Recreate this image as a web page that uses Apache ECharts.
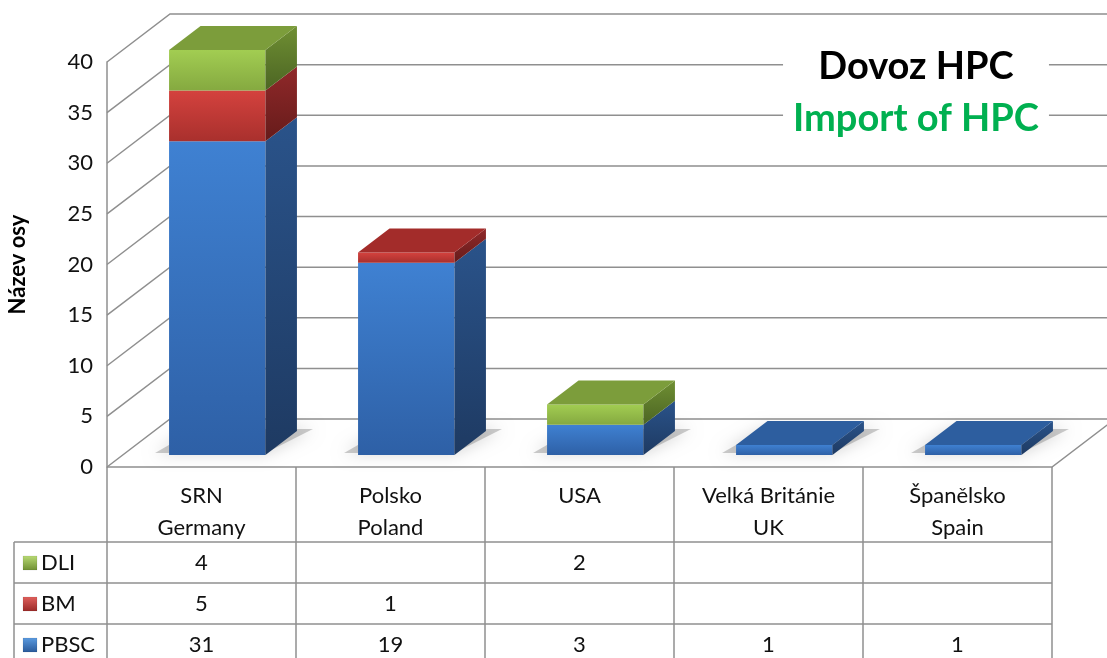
<!DOCTYPE html>
<html>
<head>
<meta charset="utf-8">
<script src="https://cdn.jsdelivr.net/npm/echarts@6/dist/echarts.min.js"></script>
<style>
  html, body { margin: 0; padding: 0; background: #fff; }
  #chart { width: 1107px; height: 658px; }
</style>
</head>
<body>
<div id="chart"></div>
<script>
// data
const categories = ['SRN\nGermany', 'Polsko\nPoland', 'USA', 'Velká Británie\nUK', 'Španělsko\nSpain'];
const seriesNames = ['PBSC', 'BM', 'DLI'];
const pbsc = [31, 19, 3, 1, 1];
const bm = [5, 1, null, null, null];
const dli = [4, null, 2, null, null];
const yTicks = [0, 5, 10, 15, 20, 25, 30, 35, 40];

// layout
const GL = 107, GR = 1052, GT = 62, GB = 467;
const DX = 63, DY = -48;
const FONT = 'Lato, "Open Sans", sans-serif';
const LINE = '#8f8f8f';

const palette = {
  PBSC: { front: ['#3f81d2', '#2e60a6'], side: ['#2a538a', '#1e3a62'], top: '#2d5e9f', key: ['#5b9be0', '#2a5a9a'] },
  BM:   { front: ['#d4423e', '#a9302d'], side: ['#90292a', '#661b1a'], top: '#a32c2a', key: ['#e0605c', '#9a2a28'] },
  DLI:  { front: ['#a2cd52', '#85a940'], side: ['#6f8f33', '#4c6523'], top: '#7c9d3b', key: ['#b8da74', '#6f8f33'] }
};

// stack the values
const valueRows = { PBSC: pbsc, BM: bm, DLI: dli };
const base = categories.map(() => 0);
const lastSeries = categories.map((c, i) => {
  let last = null;
  seriesNames.forEach(n => { if (valueRows[n][i] != null) last = n; });
  return last;
});
const stacked = {};
seriesNames.forEach(n => {
  stacked[n] = [];
  valueRows[n].forEach((v, i) => {
    if (v == null) return;
    stacked[n].push([i, base[i], base[i] + v, lastSeries[i] === n ? 1 : 0]);
    base[i] += v;
  });
});

function vgrad(c) {
  return new echarts.graphic.LinearGradient(0, 0, 0, 1, [{ offset: 0, color: c[0] }, { offset: 1, color: c[1] }]);
}

function barItem(name) {
  const col = palette[name];
  return function (params, api) {
    const cat = api.value(0), b = api.value(1), t = api.value(2), isTop = api.value(3);
    const p0 = api.coord([cat, b]), p1 = api.coord([cat, t]);
    const w = api.size([1, 0])[0] * 0.51;
    const ox = DX * 0.25, oy = DY * 0.25, sx = DX * 0.5, sy = DY * 0.5;
    const x1 = p0[0] - w / 2 + ox, x2 = x1 + w;
    const yb = p0[1] + oy, yt = p1[1] + oy;
    const children = [];
    if (b === 0) {
      // soft shadow on the floor
      children.push({
        type: 'polygon',
        shape: { points: [[x1 - 14, yb - 2], [x2, yb - 2], [x2 + sx + 16, yb + sy - 2], [x1 + sx - 4, yb + sy - 2]] },
        style: { fill: 'rgba(110,110,110,0.35)', shadowBlur: 16, shadowColor: 'rgba(0,0,0,0.5)' }
      });
    }
    children.push({
      type: 'rect',
      shape: { x: x1, y: yt, width: w, height: yb - yt },
      style: { fill: vgrad(col.front) }
    });
    children.push({
      type: 'polygon',
      shape: { points: [[x2, yb], [x2 + sx, yb + sy], [x2 + sx, yt + sy], [x2, yt]] },
      style: { fill: vgrad(col.side) }
    });
    if (isTop) {
      children.push({
        type: 'polygon',
        shape: { points: [[x1, yt], [x2, yt], [x2 + sx, yt + sy], [x1 + sx, yt + sy]] },
        style: { fill: col.top }
      });
    }
    return { type: 'group', children: children };
  };
}

function gridItem(params, api) {
  const v = api.value(0);
  const y = api.coord([0, v])[1];
  const children = [{
    type: 'polyline',
    shape: { points: [[GL, y], [GL + DX, y + DY], [1120, y + DY]] },
    style: { stroke: LINE, lineWidth: 1.5, fill: null }
  }];
  if (v === 0) {
    children.push({
      type: 'polyline',
      shape: { points: [[GL, y], [GR, y], [GR + DX, y + DY]] },
      style: { stroke: LINE, lineWidth: 1.5, fill: null }
    });
  }
  return { type: 'group', children: children };
}

// data table rows shown under the category header
const tableRows = [['DLI', dli], ['BM', bm], ['PBSC', pbsc]];
const rowCenters = [563, 604, 645];

const xAxes = [{
  type: 'category', data: categories, gridIndex: 0, position: 'bottom',
  axisLine: { show: false }, axisTick: { show: false },
  axisLabel: { margin: 13, verticalAlign: 'top', lineHeight: 32, fontSize: 22, color: '#111', fontFamily: FONT, interval: 0 }
}];
tableRows.forEach((r, k) => {
  xAxes.push({
    type: 'category', data: categories, gridIndex: 0, position: 'bottom',
    axisLine: { show: false }, axisTick: { show: false },
    axisLabel: {
      margin: rowCenters[k] - GB, verticalAlign: 'middle', fontSize: 22, color: '#111', fontFamily: FONT, interval: 0,
      formatter: (val, i) => (r[1][i] == null ? '' : String(r[1][i]))
    }
  });
});

// table lines
const graphics = [];
const colW = (GR - GL) / categories.length;
for (let i = 0; i <= categories.length; i++) {
  graphics.push({ type: 'line', shape: { x1: GL + i * colW, y1: GB, x2: GL + i * colW, y2: 660 }, style: { stroke: LINE, lineWidth: 1.5 } });
}
graphics.push({ type: 'line', shape: { x1: 14, y1: 542, x2: 14, y2: 660 }, style: { stroke: LINE, lineWidth: 1.5 } });
[542, 583, 624].forEach(y => {
  graphics.push({ type: 'line', shape: { x1: 14, y1: y, x2: GR, y2: y }, style: { stroke: LINE, lineWidth: 1.5 } });
});
tableRows.forEach((r, k) => {
  const c = palette[r[0]].key;
  graphics.push({
    type: 'rect', shape: { x: 23, y: rowCenters[k] - 7, width: 14, height: 14 },
    style: { fill: vgrad(c), stroke: 'rgba(0,0,0,0.15)', lineWidth: 0.5 }
  });
  graphics.push({
    type: 'text', x: 41, y: rowCenters[k],
    style: { text: r[0], fontSize: 22, fontFamily: FONT, fill: '#111', verticalAlign: 'middle' }
  });
});

const chart = echarts.init(document.getElementById('chart'));
chart.setOption({
  backgroundColor: '#fff',
  animation: false,
  title: {
    text: 'Dovoz HPC',
    subtext: 'Import of HPC',
    left: 906,
    top: 44,
    textAlign: 'center',
    backgroundColor: '#fff',
    padding: [4, 10, 4, 10],
    itemGap: 14,
    textStyle: { fontSize: 38, fontWeight: 'bold', color: '#000', fontFamily: FONT },
    subtextStyle: { fontSize: 38, fontWeight: 'bold', color: '#00b050', fontFamily: FONT },
    z: 10
  },
  grid: { left: GL, right: 1107 - GR, top: GT, bottom: 658 - GB, containLabel: false, outerBoundsMode: 'none' },
  xAxis: xAxes,
  yAxis: {
    type: 'value', min: 0, max: 40, interval: 5,
    name: 'Název osy', nameLocation: 'middle', nameGap: 78, nameRotate: 90,
    nameTextStyle: { fontSize: 22, fontWeight: 'bold', color: '#000', fontFamily: FONT },
    axisLine: { show: true, lineStyle: { color: LINE, width: 1.5 } },
    axisTick: { show: false },
    splitLine: { show: false },
    axisLabel: { margin: 14, fontSize: 22, color: '#111', fontFamily: FONT }
  },
  graphic: graphics,
  series: [{
    type: 'custom', name: 'grid3d', renderItem: gridItem, clip: false, z: 1,
    data: yTicks.map(v => [v]), encode: { y: 0 }, silent: true
  }].concat(seriesNames.map(n => ({
    type: 'custom', name: n, renderItem: barItem(n), clip: false, z: 3,
    data: stacked[n], encode: { x: 0, y: [1, 2] }
  })))
});
</script>
</body>
</html>
